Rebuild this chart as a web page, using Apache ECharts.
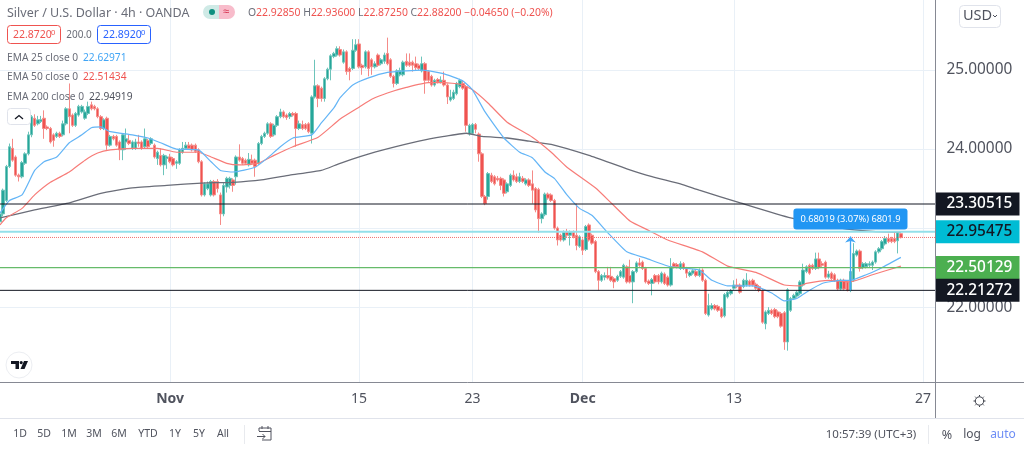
<!DOCTYPE html>
<html><head><meta charset="utf-8">
<style>html,body{margin:0;padding:0;background:#fff}#c{width:1024px;height:449px}</style>
<script src="https://cdn.jsdelivr.net/npm/echarts@6/dist/echarts.min.js"></script>
</head><body><div id="c"></div>
<script>
// open, close, low, high of each 4h candle
const ohlcRows = [
[23.08,23.18,23.05,23.2],[23.18,23.48,23.15,23.5],[23.35,23.78,23.33,23.8],[23.78,24.03,23.76,24.07],[24.01,23.86,23.84,24.13],[23.9,23.67,23.65,23.92],[23.67,23.65,23.59,23.69],[23.65,23.83,23.63,23.85],[23.82,23.94,23.8,23.96],[23.94,24.18,23.92,24.22],
[24.18,24.41,24.15,24.43],[24.39,24.3,24.28,24.44],[24.32,24.37,24.3,24.42],[24.35,24.37,24.33,24.42],[24.39,24.26,24.13,24.49],[24.28,24.26,24.24,24.3],[24.26,24.09,24.07,24.28],[24.18,24.11,24.03,24.2],[24.16,24.2,24.14,24.22],[24.2,24.16,24.14,24.22],
[24.18,24.32,24.16,24.36],[24.32,24.51,24.3,24.53],[24.51,24.41,24.2,24.83],[24.43,24.3,24.28,24.45],[24.3,24.45,24.28,24.47],[24.43,24.54,24.41,24.56],[24.47,24.54,24.45,24.56],[24.39,24.47,24.37,24.5],[24.45,24.54,24.43,24.6],[24.56,24.51,24.49,24.6],
[24.54,24.51,24.49,24.56],[24.51,24.41,24.39,24.53],[24.41,24.26,24.24,24.43],[24.26,24.37,24.24,24.39],[24.39,24.05,23.99,24.41],[24.05,24.16,24.03,24.18],[24.16,24.13,24.11,24.18],[24.16,24.05,24.03,24.18],[24.09,23.99,23.86,24.11],[23.99,24.18,23.86,24.2],
[24.09,24.13,23.99,24.26],[24.11,24.07,24.05,24.18],[24.01,24.09,23.99,24.11],[24.01,24.09,23.99,24.13],[24.09,24.07,24.03,24.18],[24.09,24.01,23.99,24.11],[24.03,24.13,24.01,24.26],[24.11,24.03,24.01,24.13],[24.07,24.13,24.05,24.15],[24.05,23.9,23.88,24.07],
[23.88,23.96,23.8,23.98],[23.92,23.8,23.78,24.01],[23.8,23.92,23.67,23.94],[23.88,23.9,23.75,23.92],[23.9,23.84,23.82,23.94],[23.88,23.8,23.78,23.9],[23.82,23.84,23.75,23.86],[23.82,23.99,23.8,24.01],[23.96,24.01,23.94,24.09],[24.01,24.05,23.99,24.09],
[24.05,24.01,23.99,24.09],[24.05,23.99,23.97,24.07],[24.05,23.97,23.95,24.07],[23.99,23.84,23.82,24.01],[23.84,23.42,23.4,23.86],[23.42,23.56,23.4,23.58],[23.5,23.56,23.48,23.59],[23.42,23.59,23.4,23.61],[23.59,23.42,23.4,23.61],[23.59,23.5,23.45,23.62],
[23.42,23.18,23.04,23.45],[23.18,23.54,23.15,23.58],[23.52,23.63,23.45,23.65],[23.54,23.63,23.5,23.65],[23.61,23.54,23.46,23.63],[23.65,23.9,23.55,23.92],[23.9,23.86,23.84,24.06],[23.88,23.82,23.8,23.9],[23.86,23.82,23.8,23.88],[23.8,23.87,23.78,23.95],
[23.86,23.82,23.8,23.93],[23.86,23.78,23.65,23.88],[23.82,24.07,23.8,24.09],[24.07,24.16,24.05,24.18],[24.16,24.2,24.14,24.22],[24.2,24.32,24.18,24.34],[24.32,24.16,24.14,24.34],[24.18,24.3,24.16,24.32],[24.3,24.41,24.28,24.43],[24.41,24.47,24.39,24.51],
[24.47,24.41,24.39,24.49],[24.43,24.4,24.37,24.45],[24.41,24.45,24.38,24.47],[24.45,24.43,24.41,24.47],[24.45,24.26,24.03,24.47],[24.26,24.32,24.24,24.36],[24.31,24.26,24.24,24.36],[24.31,24.26,24.24,24.33],[24.32,24.22,24.2,24.34],[24.2,24.66,24.07,24.68],
[24.66,24.8,24.64,25.13],[24.8,24.64,24.53,24.82],[24.77,24.64,24.6,24.79],[24.64,24.89,24.6,24.91],[24.89,25.01,24.87,25.03],[25.01,25.18,24.87,25.2],[25.17,25.21,25.15,25.23],[25.19,25.27,25.17,25.3],[25.26,25.19,25.17,25.3],[25.1,25.23,25.08,25.26],
[25.23,24.98,24.94,25.25],[25.02,24.98,24.87,25.04],[25.02,25.25,25.0,25.39],[25.25,25.32,25.23,25.39],[25.33,25.04,25.02,25.39],[25.06,25.03,24.94,25.08],[25.04,25.23,25.02,25.25],[25.23,25.02,24.92,25.25],[25.13,25.04,24.94,25.15],[25.04,25.08,25.02,25.11],
[25.19,25.06,25.04,25.21],[25.08,25.13,25.06,25.15],[25.11,25.19,25.08,25.22],[25.21,25.08,25.06,25.41],[25.13,24.92,24.9,25.15],[24.92,24.83,24.78,24.94],[24.83,24.99,24.81,25.01],[24.94,24.99,24.92,25.03],[24.94,25.1,24.92,25.12],[25.11,25.06,25.04,25.21],
[25.1,25.06,25.04,25.21],[25.1,25.06,24.98,25.12],[25.08,25.03,25.0,25.17],[25.06,25.02,25.0,25.08],[24.99,25.08,24.97,25.17],[25.08,24.87,24.7,25.1],[24.98,24.87,24.85,25.0],[24.92,24.81,24.79,24.94],[24.81,24.87,24.79,24.89],[24.88,24.85,24.83,24.9],
[24.85,24.87,24.83,24.92],[24.87,24.81,24.79,24.98],[24.81,24.66,24.57,24.83],[24.62,24.66,24.6,24.75],[24.64,24.72,24.62,24.75],[24.7,24.83,24.68,24.85],[24.79,24.87,24.77,24.89],[24.83,24.77,24.75,24.87],[24.79,24.3,24.22,24.81],[24.19,24.3,24.17,24.32],
[24.2,24.31,24.18,24.33],[24.31,24.25,24.2,24.33],[24.19,23.94,23.84,24.21],[23.94,23.4,23.38,23.96],[23.4,23.31,23.29,23.42],[23.4,23.69,23.36,23.71],[23.67,23.59,23.57,23.7],[23.65,23.56,23.54,23.67],[23.63,23.61,23.59,23.66],[23.63,23.54,23.48,23.65],
[23.61,23.44,23.4,23.63],[23.46,23.56,23.44,23.58],[23.54,23.67,23.52,23.69],[23.67,23.61,23.59,23.73],[23.65,23.59,23.57,23.69],[23.59,23.65,23.57,23.7],[23.63,23.59,23.57,23.66],[23.56,23.61,23.54,23.63],[23.61,23.54,23.52,23.63],[23.56,23.48,23.31,23.73],
[23.5,23.23,23.2,23.52],[23.49,23.12,22.94,23.51],[23.12,23.18,23.06,23.2],[23.17,23.43,23.15,23.45],[23.43,23.38,23.36,23.45],[23.42,23.35,23.33,23.44],[23.35,23.0,22.98,23.37],[23.0,22.85,22.78,23.02],[22.91,22.85,22.83,22.93],[22.85,22.95,22.83,22.97],
[22.95,22.91,22.89,22.99],[22.91,22.95,22.78,22.97],[22.95,22.89,22.87,22.97],[22.91,22.78,22.72,23.31],[22.77,22.89,22.75,22.91],[22.85,22.72,22.66,22.87],[22.73,23.02,22.71,23.04],[23.04,22.85,22.83,23.06],[22.91,22.81,22.79,22.93],[22.83,22.45,22.43,22.85],
[22.45,22.34,22.21,22.47],[22.34,22.4,22.32,22.42],[22.38,22.4,22.34,22.44],[22.4,22.37,22.35,22.51],[22.39,22.34,22.32,22.51],[22.36,22.32,22.24,22.38],[22.34,22.39,22.32,22.41],[22.39,22.45,22.37,22.47],[22.38,22.53,22.36,22.55],[22.51,22.32,22.3,22.53],
[22.4,22.32,22.3,22.6],[22.32,22.45,22.05,22.47],[22.45,22.56,22.43,22.58],[22.56,22.53,22.51,22.62],[22.57,22.49,22.47,22.59],[22.49,22.32,22.3,22.51],[22.33,22.3,22.28,22.35],[22.3,22.35,22.15,22.37],[22.4,22.32,22.3,22.42],[22.4,22.32,22.29,22.42],
[22.32,22.43,22.3,22.45],[22.42,22.3,22.28,22.44],[22.38,22.28,22.26,22.4],[22.28,22.51,22.26,22.62],[22.55,22.51,22.49,22.57],[22.54,22.51,22.49,22.56],[22.49,22.55,22.47,22.58],[22.55,22.49,22.47,22.57],[22.49,22.43,22.37,22.51],[22.4,22.44,22.38,22.46],
[22.43,22.46,22.41,22.48],[22.45,22.4,22.38,22.47],[22.4,22.47,22.38,22.49],[22.47,22.34,22.32,22.49],[22.34,21.92,21.9,22.36],[21.9,22.02,21.88,22.17],[21.98,22.02,21.96,22.05],[22.02,21.98,21.96,22.04],[22.01,21.96,21.94,22.03],[21.98,21.88,21.86,22.0],
[21.89,22.16,21.87,22.18],[22.13,22.19,22.11,22.21],[22.17,22.21,22.15,22.23],[22.24,22.28,22.22,22.34],[22.28,22.26,22.24,22.36],[22.28,22.19,22.17,22.3],[22.26,22.34,22.24,22.36],[22.28,22.34,22.26,22.43],[22.33,22.28,22.26,22.35],[22.34,22.28,22.26,22.36],
[22.29,22.24,22.22,22.31],[22.26,22.21,22.19,22.28],[22.21,21.81,21.79,22.23],[21.79,21.94,21.72,21.96],[21.92,21.96,21.9,22.0],[21.96,21.92,21.9,21.98],[21.97,21.88,21.86,21.99],[21.94,21.88,21.86,21.96],[21.92,21.76,21.74,21.94],[21.93,21.56,21.46,21.95],
[21.56,22.22,21.45,22.24],[21.96,22.11,21.94,22.13],[22.11,22.15,22.09,22.17],[22.14,22.19,22.12,22.21],[22.17,22.32,22.15,22.34],[22.28,22.47,22.26,22.55],[22.45,22.51,22.43,22.53],[22.53,22.43,22.41,22.55],[22.53,22.49,22.47,22.55],[22.49,22.61,22.47,22.69],
[22.61,22.5,22.48,22.69],[22.55,22.53,22.51,22.58],[22.57,22.38,22.36,22.59],[22.38,22.42,22.36,22.46],[22.43,22.36,22.34,22.45],[22.41,22.34,22.32,22.43],[22.34,22.23,22.21,22.36],[22.23,22.34,22.21,22.36],[22.34,22.23,22.21,22.36],[22.32,22.21,22.2,22.34],
[22.21,22.45,22.19,22.47],[22.34,22.68,22.32,22.81],[22.66,22.71,22.64,22.73],[22.71,22.49,22.45,22.73],[22.5,22.55,22.48,22.57],[22.51,22.55,22.49,22.57],[22.53,22.55,22.5,22.58],[22.53,22.57,22.47,22.59],[22.57,22.7,22.55,22.72],[22.7,22.74,22.68,22.76],
[22.74,22.83,22.72,22.85],[22.8,22.87,22.78,22.9],[22.87,22.83,22.81,22.93],[22.87,22.83,22.81,22.89],[22.87,22.83,22.81,22.94],[22.84,22.94,22.68,22.96],[22.93,22.88,22.87,22.94]
];
// moving averages: [candle index, value]
const ema25 = [[0,23.19],[3,23.35],[7,23.42],[11,23.73],[14,23.84],[18,23.9],[22,24.08],[26,24.18],[29,24.27],[32,24.28],[35,24.22],[42,24.18],[47,24.14],[51,24.08],[56,24.0],[63,23.99],[67,23.84],[70,23.73],[74,23.71],[81,23.77],[85,23.89],[89,24.03],[93,24.14],[99,24.18],[102,24.33],[106,24.52],[108,24.65],[112,24.81],[117,24.9],[123,24.97],[129,24.99],[134,25.0],[140,24.96],[144,24.91],[147,24.86],[150,24.75],[154,24.47],[160,24.14],[165,23.96],[169,23.89],[173,23.71],[176,23.63],[180,23.42],[184,23.25],[188,23.16],[193,22.94],[199,22.7],[205,22.62],[213,22.51],[222,22.47],[226,22.34],[231,22.27],[239,22.27],[245,22.18],[249,22.08],[253,22.11],[256,22.19],[261,22.3],[267,22.34],[270,22.34],[275,22.41],[279,22.48],[286,22.63]];
const ema50 = [[0,23.04],[2,23.13],[7,23.25],[11,23.42],[16,23.58],[22,23.71],[27,23.86],[31,23.95],[35,23.99],[42,24.01],[50,24.01],[56,23.96],[63,23.96],[67,23.9],[72,23.82],[76,23.8],[82,23.82],[87,23.92],[93,24.03],[101,24.15],[108,24.38],[114,24.53],[118,24.63],[123,24.71],[129,24.78],[136,24.84],[141,24.84],[146,24.82],[150,24.75],[155,24.58],[161,24.34],[169,24.15],[175,23.96],[180,23.77],[189,23.51],[194,23.32],[200,23.09],[206,22.97],[212,22.85],[223,22.7],[231,22.52],[240,22.44],[249,22.28],[254,22.27],[256,22.3],[263,22.34],[270,22.32],[277,22.41],[286,22.52]];
const ema200 = [[0,23.13],[11,23.23],[22,23.32],[32,23.44],[42,23.51],[53,23.54],[64,23.57],[74,23.58],[83,23.61],[92,23.67],[102,23.73],[108,23.82],[119,23.96],[133,24.1],[141,24.16],[148,24.2],[153,24.16],[161,24.14],[168,24.1],[175,24.06],[187,23.92],[199,23.75],[207,23.65],[216,23.56],[222,23.48],[235,23.32],[251,23.13],[267,23.0],[277,22.96],[286,22.95]];
const slotCount = 298;
const tickSlots = [54,114,150,185,233,293];
const tickLabels = ['Nov','15','23','Dec','13','27'];
const priceTicks = [22,23,24,25];
const priceLabels = [22,24,25];
const horizontalLevels = [23.30515,22.95475,22.50129,22.21272];
const lastPrice = 22.882;
const measureFrom = 22.21272, measureTo = 22.89291, measureSlot = 270;
const measureLabelAt = 23.114;
const measureText = '0.68019 (3.07%) 6801.9';
const headerValues = ['22.92850','22.93600','22.87250','22.88200','−0.04650 (−0.20%)'];
const rangeButtons = ['1D','5D','1M','3M','6M','YTD','1Y','5Y','All'];

const FONT = '"Noto Sans", sans-serif';
const categories = Array.from({length:slotCount},(_,i)=>{const k=tickSlots.indexOf(i);return k<0?'':tickLabels[k];});
const hasLabel = (i,v)=>v!=='';

// a flat price level across the whole plot, with its tag on the price scale
const level = (v,color,w,type,bg,fg)=>({type:'line',data:[[0,v],[slotCount-1,v]],showSymbol:false,silent:true,z:5,clip:false,
  lineStyle:{color,width:w,type,opacity:1},
  endLabel:bg?{show:true,distance:0,backgroundColor:bg,color:fg,fontFamily:FONT,fontSize:15.4,fontWeight:500,width:73,height:23,lineHeight:23,align:'left',verticalAlign:'middle',padding:[0,0,0,11],formatter:()=>v.toFixed(5)}:{show:false}});

function ctxt(text,x,y,size,color,extra){return {type:'text',silent:true,z:50,x:x,y:y,style:Object.assign({text,fontFamily:FONT,fontSize:size,fill:color,align:'center',verticalAlign:'middle'},extra||{})};}
function ltxt(text,x,y,size,color,extra){return {type:'text',silent:true,z:50,x:x,y:y,style:Object.assign({text,fontFamily:FONT,fontSize:size,fill:color,align:'left',verticalAlign:'middle'},extra||{})};}
function rrect(x,y,w,h,r,fill,stroke,lw){return {type:'rect',silent:true,z:49,shape:{x,y,width:w,height:h,r},style:{fill:fill||'none',stroke:stroke||'none',lineWidth:lw||1}};}
function seg(x1,y1,x2,y2,color,lw){return {type:'line',silent:true,z:49,shape:{x1,y1,x2,y2},style:{stroke:color,lineWidth:lw||1}};}

const gray='#6a6d78', red='#ef5350';
const rangeX=[20,44,69,94,119,148,175,199,223];
const graphics=[
  ltxt('Silver / U.S. Dollar · 4h · OANDA',7,13,12.5,gray),
  {type:'rect',silent:true,z:49,shape:{x:203,y:5,width:16,height:14,r:[7,0,0,7]},style:{fill:'#cfeae6'}},
  {type:'rect',silent:true,z:49,shape:{x:219,y:5,width:16,height:14,r:[0,7,7,0]},style:{fill:'#f8bccb'}},
  {type:'circle',silent:true,z:50,shape:{cx:212,cy:12,r:3},style:{fill:'#0d8f7f'}},
  ctxt('≈',226,12,11,'#d6324f'),
  ltxt('{g|O}{r|'+headerValues[0]+'} {g|H}{r|'+headerValues[1]+'} {g|L}{r|'+headerValues[2]+'} {g|C}{r|'+headerValues[3]+'} {r|'+headerValues[4]+'}',248,13,10.4,red,
    {rich:{g:{fill:gray,fontFamily:FONT,fontSize:10.4},r:{fill:red,fontFamily:FONT,fontSize:10.4}}}),
  rrect(7.5,25.5,53,18,3,'#fff',red,1),
  rrect(97.5,25.5,53,18,3,'#fff','#2962ff',1),
  ltxt('22.8720',13,35,10.5,red),ltxt('0',51,33,7.5,red),
  ctxt('200.0',79,35,10,gray),
  ltxt('22.8920',103,35,10.5,'#2962ff'),ltxt('0',141,33,7.5,'#2962ff'),
  ltxt('EMA 25 close 0',7,58,10.2,gray),ltxt('22.62971',83,58,10.2,'#42a5f5'),
  ltxt('EMA 50 close 0',7,77,10.2,gray),ltxt('22.51434',83,77,10.2,red),
  ltxt('EMA 200 close 0',7,97,10.2,gray),ltxt('22.94919',89,97,10.2,'#50535e'),
  rrect(7.5,108.5,23,16,3,'#fff','#e0e3eb',1),
  {type:'polyline',silent:true,z:50,shape:{points:[[15,119],[19,115.5],[23,119]]},style:{stroke:'#131722',lineWidth:1.3,fill:'none'}},
  rrect(959.5,5.5,41,22,4,'#fff','#e0e3eb',1),
  ltxt('USD',963,16,14.5,'#50535e'),
  {type:'polyline',silent:true,z:50,shape:{points:[[993,15],[995,17],[997,15]]},style:{stroke:'#50535e',lineWidth:1,fill:'none'}},
  {type:'circle',silent:true,z:49,shape:{cx:19,cy:365,r:13},style:{fill:'#fff',stroke:'#eceef2',lineWidth:1}},
  {type:'polygon',silent:true,z:50,shape:{points:[[11,361],[19,361],[19,369],[15.5,369],[15.5,364],[11,364]]},style:{fill:'#131722'}},
  {type:'circle',silent:true,z:50,shape:{cx:21.2,cy:362.6,r:1.6},style:{fill:'#131722'}},
  {type:'polygon',silent:true,z:50,shape:{points:[[24,361],[28,361],[24.5,369],[20.5,369]]},style:{fill:'#131722'}},
  seg(0,418.5,1024,418.5,'#e0e3eb'),
  seg(935.5,0,935.5,418,'#868993'),
  seg(935.5,382.5,1024,382.5,'#868993'),
  seg(244.5,425,244.5,444,'#e8eaee'),
  seg(928.5,425,928.5,444,'#e8eaee'),
  {type:'polyline',silent:true,z:50,shape:{points:[[259,431],[259,428],[271,428],[271,440],[262,440]]},style:{stroke:'#50535e',lineWidth:1,fill:'none'}},
  seg(259,431.5,271,431.5,'#50535e'),seg(262,426,262,429,'#50535e'),seg(268,426,268,429,'#50535e'),
  seg(257,436.5,265,436.5,'#50535e'),
  {type:'polyline',silent:true,z:50,shape:{points:[[262.5,434],[265,436.5],[262.5,439]]},style:{stroke:'#50535e',lineWidth:1,fill:'none'}},
  {type:'circle',silent:true,z:50,shape:{cx:979.5,cy:401,r:4.2},style:{fill:'#fff',stroke:'#3a3d47',lineWidth:1}},
  seg(979.5,395,979.5,396.5,'#3a3d47'),seg(979.5,405.5,979.5,407,'#3a3d47'),seg(973.5,401,975,401,'#3a3d47'),seg(984,401,985.5,401,'#3a3d47'),
  seg(975.2,396.7,976.3,397.8,'#3a3d47'),seg(982.7,404.2,983.8,405.3,'#3a3d47'),seg(983.8,396.7,982.7,397.8,'#3a3d47'),seg(976.3,404.2,975.2,405.3,'#3a3d47'),
  ctxt('10:57:39 (UTC+3)',871,435,11.5,'#50535e'),
  ctxt('%',947,435,12.5,'#50535e'),
  ctxt('log',972,435,12,'#50535e'),
  ctxt('auto',1003,435,12,'#6d8df5')
].concat(rangeButtons.map((b,i)=>ctxt(b,rangeX[i],434.5,10.5,'#50535e')));

const chart=echarts.init(document.getElementById('c'),null,{renderer:'canvas'});
chart.setOption({
  animation:false,
  backgroundColor:'#ffffff',
  grid:{left:-1,top:0,width:936.5,height:382.5},
  xAxis:{type:'category',data:categories,boundaryGap:false,
    axisLine:{show:true,lineStyle:{color:'#868993',width:1}},
    axisTick:{show:false},
    axisLabel:{show:true,interval:hasLabel,margin:10,fontFamily:FONT,fontSize:14,color:'#50535e',hideOverlap:false,showMinLabel:true,showMaxLabel:true,
      formatter:v=>(v==='Nov'||v==='Dec')?'{b|'+v+'}':v,rich:{b:{fontFamily:FONT,fontSize:14,fontWeight:'bold',color:'#50535e'}}},
    splitLine:{show:true,interval:hasLabel,lineStyle:{color:'#e9f0f7',width:1}}},
  yAxis:{type:'value',position:'right',min:21.047,max:25.886,
    axisLine:{show:false},
    axisTick:{show:false,customValues:priceTicks},
    axisLabel:{show:true,customValues:priceLabels,margin:11,fontFamily:FONT,fontSize:15.4,color:'#50535e',formatter:v=>v.toFixed(5)},
    splitLine:{show:true,lineStyle:{color:'#e9f0f7',width:1}}},
  graphic:{elements:graphics},
  series:[
    {type:'candlestick',data:ohlcRows,barWidth:3,z:3,
      itemStyle:{color:'#26a69a',color0:'#ef5350',borderColor:'#6cc4ba',borderColor0:'#f58b88',borderWidth:1}},
    level(horizontalLevels[0],'#131722',1,'solid','#131722','#ffffff'),
    level(horizontalLevels[1],'#93e0ea',2,'solid','#00bcd4','#131722'),
    level(lastPrice,'#f2706d',1,'dotted'),
    level(horizontalLevels[2],'#66bb6a',1.2,'solid','#4caf50','#ffffff'),
    level(horizontalLevels[3],'#131722',1,'solid','#131722','#ffffff'),
    {type:'line',name:'EMA 200',data:ema200,smooth:0.15,showSymbol:false,z:4,lineStyle:{color:'#6a6d78',width:1.3}},
    {type:'line',name:'EMA 50',data:ema50,smooth:0.15,showSymbol:false,z:4,lineStyle:{color:'#f77c78',width:1.2}},
    {type:'line',name:'EMA 25',data:ema25,smooth:0.15,showSymbol:false,z:4,lineStyle:{color:'#64b5f6',width:1.2},
      markLine:{silent:true,animation:false,z:7,symbol:['none','none'],data:[
        [{coord:[measureSlot,measureFrom],symbol:'none',lineStyle:{color:'#42a5f5',width:1.3,type:'solid'},label:{show:false}},
         {coord:[measureSlot,measureTo],symbol:'arrow',symbolSize:[8,6]}]
      ]},
      markPoint:{silent:true,animation:false,z:8,symbol:'circle',symbolSize:1,itemStyle:{color:'transparent'},data:[
        {coord:[measureSlot,measureLabelAt],value:measureText,label:{show:true,position:'inside',formatter:measureText,backgroundColor:'#2196f3',color:'#fff',fontFamily:FONT,fontSize:9.3,padding:[6,7,6,7],borderRadius:3}}
      ]}}
  ]
});
</script></body></html>
